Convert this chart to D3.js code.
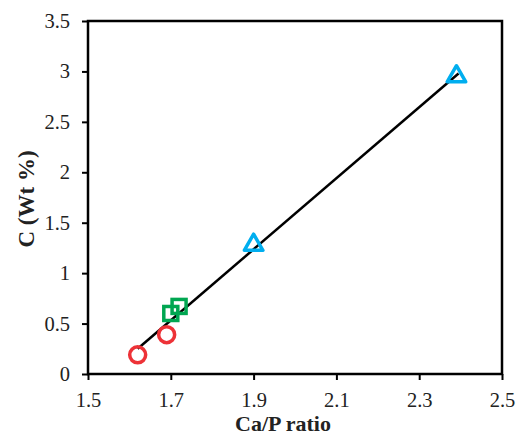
<!DOCTYPE html>
<html>
<head>
<meta charset="utf-8">
<script src="https://cdn.jsdelivr.net/npm/d3@7"></script>
<style>
  body { margin: 0; background: #fff; }
  text { font-family: "Liberation Serif", "Times New Roman", serif; }
</style>
</head>
<body>
<div id="chart"></div>
<script>
// data
const circleX = [1.62, 1.69];
const circleY = [0.19, 0.39];
const squareX = [1.70, 1.72];
const squareY = [0.60, 0.67];
const triangleX = [1.90, 2.39];
const triangleY = [1.28, 2.95];
const trendX = [1.62, 2.395];
const trendY = [0.25, 2.98];
const xTicks = [1.5, 1.7, 1.9, 2.1, 2.3, 2.5];
const yTicks = [0, 0.5, 1, 1.5, 2, 2.5, 3, 3.5];

let drawChart = (locationId) => {
  const margin = { top: 21, right: 15, bottom: 61, left: 88 };
  const width = 517 - margin.left - margin.right;
  const height = 435 - margin.top - margin.bottom;

  const svg = d3.select(locationId)
    .append("svg")
    .attr("width", 517)
    .attr("height", 435)
    .append("g")
    .attr("transform", `translate(${margin.left},${margin.top})`);

  const xScale = d3.scaleLinear().domain([1.5, 2.5]).range([0, width]);
  const yScale = d3.scaleLinear().domain([0, 3.5]).range([height, 0]);

  // axes
  const xAxis = svg.append("g")
    .attr("transform", `translate(0,${height})`)
    .call(d3.axisBottom(xScale).tickValues(xTicks).tickSize(6).tickPadding(12).tickFormat(d3.format(".1f")));
  const yAxis = svg.append("g")
    .call(d3.axisLeft(yScale).tickValues(yTicks).tickSize(6).tickPadding(12).tickFormat(d => d));

  [xAxis, yAxis].forEach(a => {
    a.select(".domain").remove();
    a.selectAll("line").attr("stroke", "#000").attr("stroke-width", 2);
    a.selectAll("text").attr("font-size", 20.5).attr("fill", "#222")
      .style("font-family", "'Liberation Serif', serif");
  });

  // box
  svg.append("rect")
    .attr("width", width)
    .attr("height", height)
    .attr("fill", "none")
    .attr("stroke", "#000")
    .attr("stroke-width", 2.5);

  // trend line
  const line = d3.line().x(d => xScale(d[0])).y(d => yScale(d[1]));
  svg.append("path")
    .datum(d3.zip(trendX, trendY))
    .attr("fill", "none")
    .attr("stroke", "#000")
    .attr("stroke-width", 2.5)
    .attr("d", line);

  // circles
  svg.selectAll(".circ")
    .data(d3.zip(circleX, circleY))
    .enter().append("circle")
    .attr("cx", d => xScale(d[0]))
    .attr("cy", d => yScale(d[1]))
    .attr("r", 8)
    .attr("fill", "none")
    .attr("stroke", "#ED3237")
    .attr("stroke-width", 3.5);

  // squares
  svg.selectAll(".sq")
    .data(d3.zip(squareX, squareY))
    .enter().append("rect")
    .attr("x", d => xScale(d[0]) - 7)
    .attr("y", d => yScale(d[1]) - 7)
    .attr("width", 14)
    .attr("height", 14)
    .attr("fill", "none")
    .attr("stroke", "#00A651")
    .attr("stroke-width", 3.5);

  // triangles
  const tri = d3.symbol().type(d3.symbolTriangle).size(150);
  svg.selectAll(".tri")
    .data(d3.zip(triangleX, triangleY))
    .enter().append("path")
    .attr("d", tri)
    .attr("transform", d => `translate(${xScale(d[0])},${yScale(d[1])})`)
    .attr("fill", "none")
    .attr("stroke", "#00AEEF")
    .attr("stroke-width", 3.5)
    .attr("stroke-linejoin", "round");

  // axis titles
  svg.append("text")
    .attr("x", 283 - margin.left)
    .attr("y", height + 57)
    .attr("text-anchor", "middle")
    .attr("font-size", 22)
    .attr("font-weight", "bold")
    .attr("fill", "#222")
    .text("Ca/P ratio");

  svg.append("text")
    .attr("transform", `translate(${34 - margin.left},${199 - margin.top}) rotate(-90)`)
    .attr("text-anchor", "middle")
    .attr("font-size", 23)
    .attr("font-weight", "bold")
    .attr("fill", "#222")
    .text("C (Wt %)");
};

drawChart("#chart");
</script>
</body>
</html>
